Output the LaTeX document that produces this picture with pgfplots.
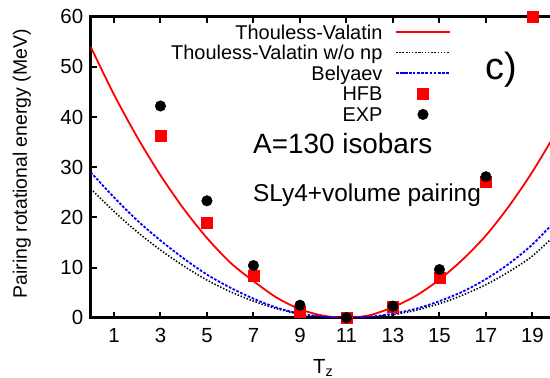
\documentclass[border=0pt]{standalone}
\usepackage{fontspec}
\setmainfont{Liberation Sans}
\usepackage{pgfplots}
\pgfplotsset{compat=1.18}
\pgfplotsset{markleg/.style={legend image code/.code={\draw[##1] plot coordinates {(27bp,2.5bp)}; \path (0bp,0bp) (54bp,0bp);}}}
\begin{document}
\begin{tikzpicture}
\begin{axis}[
 name=ax,
 scale only axis, width=465bp, height=301bp,
 xmin=0, xmax=20, ymin=0, ymax=60,
 xtick={1,3,...,19}, ytick={0,10,...,60},
 minor tick num=0,
 tick align=inside, major tick length=6bp,
 tick style={black, line width=2bp},
 axis line style={line width=2.6bp},
 /pgf/number format/assume math mode=true,
 tick label style={font=\fontsize{20.5}{22}\selectfont},
 xticklabel style={yshift=-7bp},
 yticklabel style={xshift=-4bp},
 xlabel={T\textsubscript{z}},
 ylabel={Pairing rotational energy (MeV)},
 every axis x label/.style={at={(axis description cs:0.5,0)}, anchor=base, yshift=-55.3bp, font=\fontsize{20.5}{22}\selectfont},
 every axis y label/.style={at={(axis description cs:0,0.5)}, anchor=base, xshift=-63.9bp, yshift=3.4bp, rotate=90, font=\fontsize{19.5}{22}\selectfont},
 clip mode=individual,
 legend cell align=right, legend plot pos=right,
 legend image code/.code={\draw[mark repeat=2,mark phase=2,#1] plot coordinates {(0bp,2.5bp)(27bp,2.5bp)(54bp,2.5bp)};},
 legend style={draw=none, fill=none, at={(0.7746,0.974)}, anchor=north east, inner sep=0pt, outer sep=0pt,
   font=\fontsize{20}{20}\selectfont, row sep=0.6bp, column sep=12.7bp,
   nodes={inner sep=0pt, text height=14.5bp, text depth=5.5bp, font=\fontsize{20}{20}\selectfont}},
]
\addplot[red, line width=1.8bp, smooth] coordinates {(0,54.0)(1,44.5)(2,36.0)(3,28.4)(4,21.7)(5,15.9)(6,11.0)(7,7.3)(8,4.0)(9,1.7)(10,0.4)(11,0)(12,0.5)(13,2.1)(14,4.4)(15,7.6)(16,11.6)(17,16.4)(18,22.3)(19,29.1)(20,36.8)};
\addlegendentry{Thouless-Valatin}
\addplot[black, line width=1.6bp, dash pattern=on 1.4bp off 1.8bp, smooth] coordinates {(0,25.7)(1,21.2)(2,17.1)(3,13.5)(4,10.3)(5,7.5)(6,5.2)(7,3.3)(8,1.8)(9,0.7)(10,0.15)(11,0)(12,0.15)(13,0.6)(14,1.5)(15,2.8)(16,4.5)(17,6.6)(18,9.2)(19,12.3)(20,16.6)};
\addlegendentry{Thouless-Valatin w/o np}
\addplot[blue, line width=1.8bp, dash pattern=on 2.6bp off 1.6bp, smooth] coordinates {(0,29.0)(1,24.0)(2,19.4)(3,15.4)(4,11.8)(5,8.6)(6,6.0)(7,3.8)(8,2.0)(9,0.8)(10,0.2)(11,0)(12,0.2)(13,0.8)(14,1.8)(15,3.3)(16,5.2)(17,7.7)(18,10.8)(19,14.6)(20,19.4)};
\addlegendentry{Belyaev}
\addplot[only marks, mark=square*, mark size=5.5bp, red, mark options={draw=red, fill=red}, markleg] coordinates {(3,36.2)(5,19.0)(7,8.3)(9,1.2)(11,0)(13,2.1)(15,7.9)(17,27.1)(19,60)};
\addlegendentry{HFB}
\addplot[only marks, mark=*, mark size=5.3bp, black, mark options={draw=black, fill=black}, markleg] coordinates {(3,42.2)(5,23.3)(7,10.4)(9,2.5)(11,0)(13,2.3)(15,9.6)(17,28.1)};
\addlegendentry{EXP}
\node[anchor=base west, inner sep=0pt, font=\fontsize{28}{30}\selectfont] at (axis cs:6.98,32.8) {A=130 isobars};
\node[anchor=base west, inner sep=0pt, font=\fontsize{24.5}{26}\selectfont] at (axis cs:6.98,23.1) {SLy4+volume pairing};
\node[anchor=base west, inner sep=0pt, font=\fontsize{38}{40}\selectfont] at (axis cs:16.96,47.4) {c)};
\end{axis}
\pgfresetboundingbox
\path ([shift={(-90.7bp,-60.3bp)}]ax.south west) rectangle ([shift={(459.3bp,317.7bp)}]ax.south west);
\end{tikzpicture}
\end{document}
